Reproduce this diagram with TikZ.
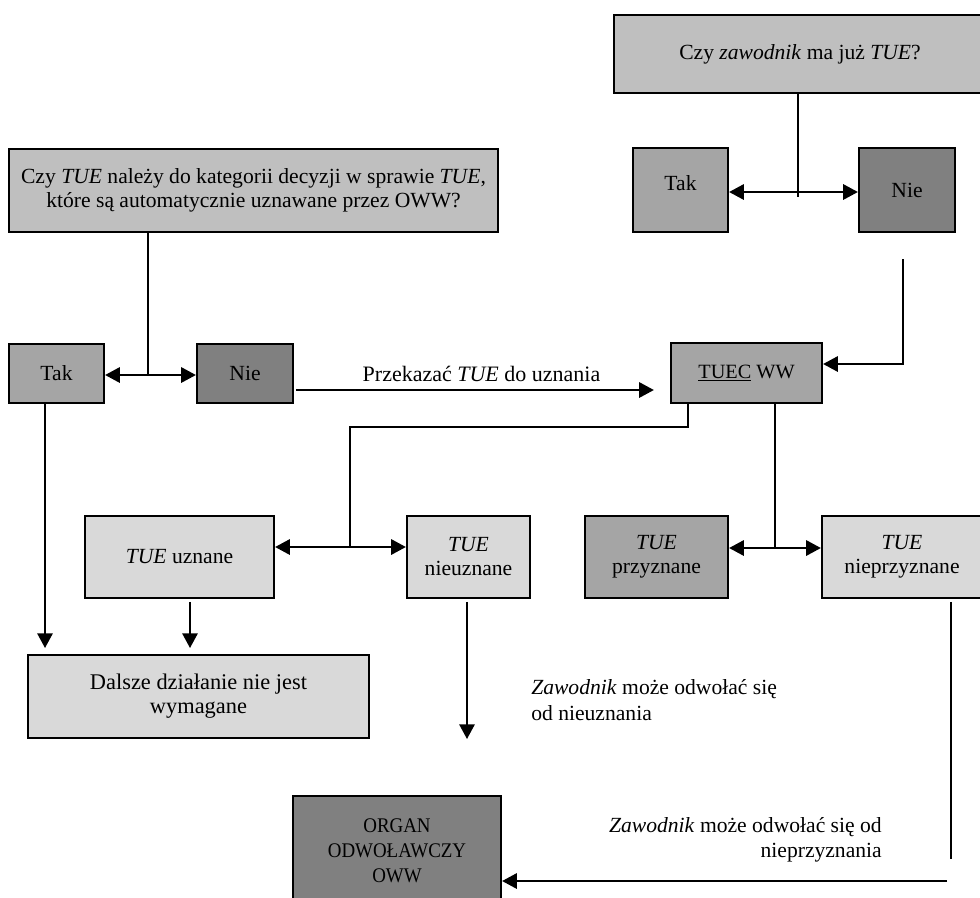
\documentclass[tikz,border=0pt]{standalone}
\usepackage{fontspec}
\setmainfont{Liberation Serif}
\usetikzlibrary{arrows.meta}
\definecolor{gL}{HTML}{D9D9D9}
\definecolor{gQ}{HTML}{BFBFBF}
\definecolor{gM}{HTML}{A5A5A5}
\definecolor{gD}{HTML}{808080}
\newcommand\mybox[7]{\node[box,fill=#6,minimum width={0.75*(#4-#2)},minimum height={0.75*(#5-#3)}] (#1) at ({(#2+#4)/2},{(#3+#5)/2}) {#7};}
\newcommand\narrowtext[1]{\scalebox{0.91}[1]{#1}}
\begin{document}
\begin{tikzpicture}[x=0.75pt,y=-0.75pt,
  every node/.style={font=\fontsize{16.2}{18}\selectfont},
  box/.style={draw,line width=1.7pt,inner sep=0pt,align=center},
  conn/.style={line width=1.4pt},
  arr/.style={conn,-{Triangle[length=11pt,width=11.5pt]}},
  lbl/.style={inner sep=0pt,font=\fontsize{16.2}{19}\selectfont}]
\useasboundingbox (0,0) rectangle (980,897);
\clip (0,0) rectangle (980,897);
% boxes
\mybox{Q1}{614}{15}{986}{93}{gQ}{Czy \textit{zawodnik} ma już \textit{TUE}?}
\mybox{TakA}{633}{148}{728}{232}{gM}{\raisebox{10.5pt}{Tak}}
\mybox{NieA}{859}{148}{955}{232}{gD}{Nie}
\mybox{Q2}{9}{149}{498}{232}{gQ}{\fontsize{16.2}{17.4}\selectfont Czy \textit{TUE} należy do kategorii decyzji w sprawie \textit{TUE},\\\fontsize{16.2}{17.4}\selectfont które są automatycznie uznawane przez OWW?}
\mybox{TakB}{9}{344}{104}{403}{gM}{Tak}
\mybox{NieB}{197}{344}{293}{403}{gD}{Nie}
\mybox{TUEC}{671}{343}{822}{403}{gM}{\fontsize{15.2}{18}\selectfont\underline{TUEC} WW}
\mybox{Uzn}{85}{516}{274}{598}{gL}{\textit{TUE} uznane}
\mybox{Nieuzn}{407}{516}{530}{598}{gL}{\textit{TUE}\\nieuznane}
\mybox{Przyz}{585}{516}{728}{598}{gM}{\textit{TUE}\\przyznane}
\mybox{Nieprz}{822}{516}{982}{598}{gL}{\textit{TUE}\\nieprzyznane}
\mybox{Dalsze}{28}{655}{369}{738}{gL}{\fontsize{16.8}{18}\selectfont Dalsze działanie nie jest\\\fontsize{16.8}{18}\selectfont wymagane}
\node[box,fill=gD,minimum width={0.75*208},minimum height={0.75*110},font=\fontsize{15.6}{18.9}\selectfont] (Organ) at (397,851) {\narrowtext{ORGAN}\\\narrowtext{ODWOŁAWCZY}\\\narrowtext{OWW}};
% coordinates
\coordinate (j1) at (798,192);
\coordinate (j1b) at (798,197);
\coordinate (s1) at (903,259);
\coordinate (s1b) at (903,364);
\coordinate (j2) at (148,375);
\coordinate (s2) at (296,390);
\coordinate (t1) at (688,427);
\coordinate (t2) at (350,427);
\coordinate (j3) at (350,547);
\coordinate (j4) at (775,548);
\coordinate (d1) at (45,648);
\coordinate (d2) at (190,648);
\coordinate (e1) at (467,739);
\coordinate (p1) at (951,600);
\coordinate (p2) at (951,859);
\coordinate (p3) at (947,881);
% connectors
\draw[conn] (j1 |- Q1.south) -- (j1b);
\draw[arr] (j1) -- (TakA.east |- j1);
\draw[arr] (j1) -- (NieA.west |- j1);
\draw[arr] (s1) -- (s1b) -- (TUEC.east |- s1b);
\draw[conn] (j2 |- Q2.south) -- (j2);
\draw[arr] (j2) -- (TakB.east |- j2);
\draw[arr] (j2) -- (NieB.west |- j2);
\draw[arr] (s2) -- ([xshift=-12pt]TUEC.west |- s2);
\node[lbl,font=\fontsize{16.5}{19}\selectfont] (przek) at (481.5,374) {Przekazać \textit{TUE} do uznania};
\draw[conn] (t1 |- TUEC.south) -- (t1) -- (t2) -- (j3);
\draw[arr] (j3) -- (Uzn.east |- j3);
\draw[arr] (j3) -- (Nieuzn.west |- j3);
\draw[conn] (j4 |- TUEC.south) -- (j4);
\draw[arr] (j4) -- (Przyz.east |- j4);
\draw[arr] (j4) -- (Nieprz.west |- j4);
\draw[arr] (d1 |- TakB.south) -- (d1);
\draw[arr] ([yshift=-2pt]d2 |- Uzn.south) -- (d2);
\draw[arr] ([yshift=-2pt]e1 |- Nieuzn.south) -- (e1);
\draw[conn] ([yshift=-2pt]p1 |- Nieprz.south) -- (p2);
\draw[arr] (p3) -- (Organ.east |- p3);
\node[lbl,anchor=west,align=left] (odw1) at (531,700) {\textit{Zawodnik} może odwołać się\\od nieuznania};
\node[lbl,anchor=east,align=right] (odw2) at (882,840) {\textit{Zawodnik} może odwołać się od\\nieprzyznania};
\end{tikzpicture}
\end{document}
